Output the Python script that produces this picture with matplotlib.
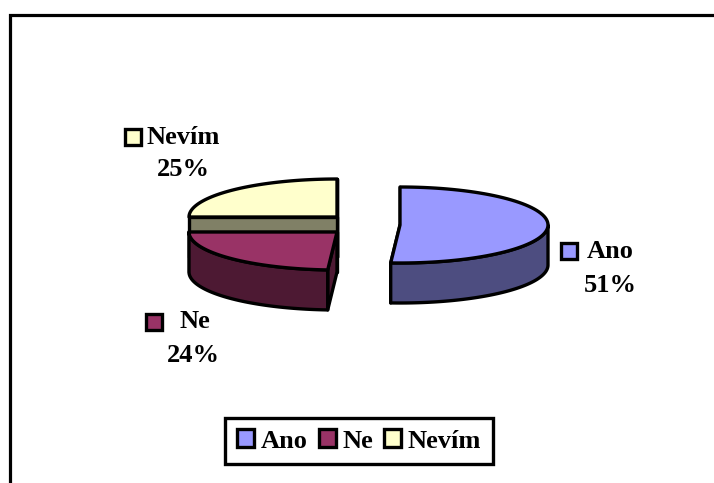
#!/usr/bin/env python3
import matplotlib
matplotlib.use("Agg")
import matplotlib.pyplot as plt
from matplotlib.patches import Patch, Polygon, Rectangle
import numpy as np

labels = ["Ano", "Ne", "Nevím"]
values = [51, 24, 25]
top_colors = ["#9999ff", "#993366", "#ffffcc"]
side_colors = ["#4d4d80", "#4d1933", "#808066"]

# per-slice pie centre (exploded), sizes in pixels
centres = [(400, 225), (337, 232), (337, 217)]
rx, ry = 148, 38
depth = 40
lw = 2.4

plt.rcParams["font.family"] = ["Liberation Serif", "DejaVu Serif"]
plt.rcParams["font.weight"] = "bold"

fig = plt.figure(figsize=(7.14, 4.83), dpi=100)
ax = fig.add_axes([0, 0, 1, 1])
ax.set_xlim(0, 714)
ax.set_ylim(483, 0)
ax.axis("off")


def rim(cx, cy, a0, a1):
    # angles clockwise from 12 o'clock, in degrees
    t = np.radians(np.linspace(a0, a1, 80))
    return np.column_stack([cx + rx * np.sin(t), cy - ry * np.cos(t)])


def face(pts, color, z):
    ax.add_patch(Polygon(pts, closed=True, fc=color, ec="black", lw=lw,
                         joinstyle="round", zorder=z))


# chart frame, cut off on the right and at the bottom
ax.plot([10, 10, 714], [483, 15, 15], color="black", lw=2.3,
        solid_joinstyle="miter", zorder=1)

edges = np.cumsum([0] + values) * 3.6

# far slice first so the nearer ones cover its cut face
for i in [2, 0, 1]:
    cx, cy = centres[i]
    a0, a1 = edges[i], edges[i + 1]
    z = 3 + [2, 0, 1].index(i) * 3
    arc = rim(cx, cy, a0, a1)
    down = np.array([0, depth])

    # straight cut faces, the one further back goes first
    for end in sorted([arc[0], arc[-1]], key=lambda p: p[1]):
        face([(cx, cy), end, end + down, (cx, cy + depth)], side_colors[i], z)

    # outer wall, only the part facing the viewer
    lo, hi = max(a0, 90), min(a1, 270)
    if hi > lo:
        wall = rim(cx, cy, lo, hi)
        face(np.vstack([wall, (wall + down)[::-1]]), side_colors[i], z + 1)

    face(np.vstack([[(cx, cy)], arc]), top_colors[i], z + 2)

# data labels with their colour keys
label_spots = [
    ((561, 243), (610.5, 252), (610.5, 285)),
    ((146, 314), (194.5, 322), (193, 356)),
    ((125, 129), (183, 137), (183, 169)),
]
for name, val, color, (key, name_xy, val_xy) in zip(labels, values, top_colors, label_spots):
    ax.add_patch(Rectangle(key, 16, 16, fc=color, ec="black", lw=lw, zorder=20))
    ax.text(*name_xy, name, fontsize=19, ha="center", va="center", zorder=20)
    ax.text(*val_xy, f"{val}%", fontsize=19, ha="center", va="center", zorder=20)

handles = [Patch(fc=c, ec="black", lw=lw) for c in top_colors]
leg = ax.legend(handles, labels, ncols=3, loc="center", bbox_to_anchor=(359, 441),
                bbox_transform=ax.transData, fontsize=19, frameon=True, fancybox=False,
                framealpha=1, edgecolor="black", handlelength=0.65, handleheight=0.65,
                handletextpad=0.25, columnspacing=0.42, borderpad=0.45, borderaxespad=0)
leg.get_frame().set_linewidth(lw)

fig.savefig("out.png", dpi=100)
